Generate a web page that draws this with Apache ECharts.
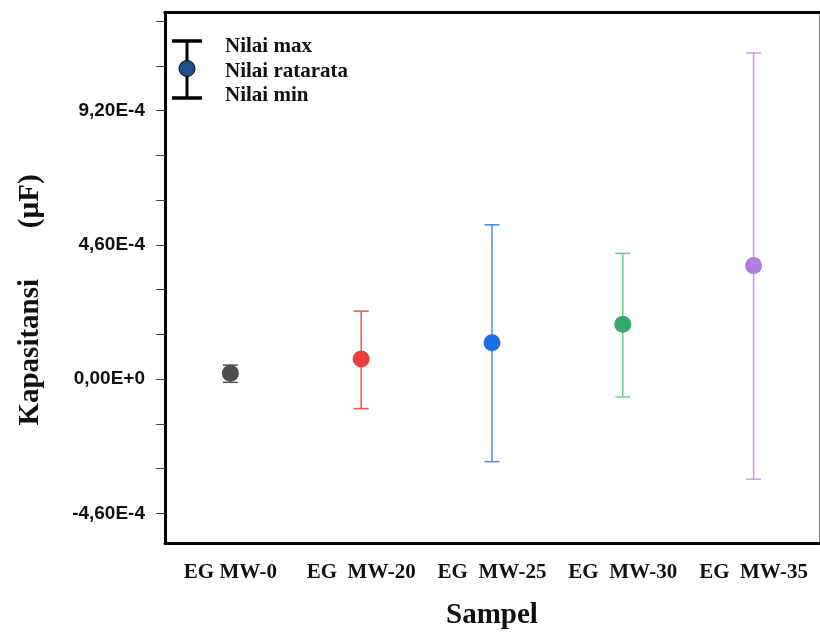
<!DOCTYPE html>
<html>
<head>
<meta charset="utf-8">
<script src="https://cdn.jsdelivr.net/npm/echarts@6/dist/echarts.min.js"></script>
<style>html,body{margin:0;padding:0;background:#fff}#c{width:820px;height:636px}</style>
</head>
<body>
<div id="c"></div>
<script>
const categories = ['EG MW-0', 'EG  MW-20', 'EG  MW-25', 'EG  MW-30', 'EG  MW-35'];
const meanValues = [2.0e-5, 6.9e-5, 1.25e-4, 1.88e-4, 3.89e-4];
const maxValues  = [4.8e-5, 2.33e-4, 5.29e-4, 4.31e-4, 1.118e-3];
const minValues  = [-1.1e-5, -1.01e-4, -2.83e-4, -6.1e-5, -3.43e-4];
const yTickLabels = [-4.6e-4, 0, 4.6e-4, 9.2e-4];
const legendTexts = ['Nilai max', 'Nilai ratarata', 'Nilai min'];

const dotColors  = ['#4d4d4d', '#ef3e3e', '#1c6fe2', '#34aa68', '#b47ae0'];
const lineColors = ['#555555', '#f05454', '#4a8ae8', '#6ec894', '#c79ce9'];

const Y_MIN = -5.635e-4, Y_MAX = 1.2566e-3;
const minorStep = yTickLabels[2] / 3;
const yTicks = [];
for (let k = -3; k <= 8; k++) yTicks.push(k * minorStep);

function fmt(v) {
  if (Math.abs(v) < 1e-12) return '0,00E+0';
  const e = Math.floor(Math.log10(Math.abs(v)) + 1e-9);
  const m = (v / Math.pow(10, e)).toFixed(2).replace('.', ',');
  return m + 'E' + (e >= 0 ? '+' + e : e);
}

const chart = echarts.init(document.getElementById('c'));
const serif = 'Liberation Serif';
chart.setOption({
  animation: false,
  backgroundColor: '#fff',
  grid: { left: 165, right: 1, top: 12.5, bottom: 92.5, containLabel: false, outerBoundsMode: 'none' },
  xAxis: [{
    type: 'category', data: categories, boundaryGap: true, position: 'bottom',
    axisLine: { onZero: false, lineStyle: { color: '#000', width: 3 } },
    axisTick: { alignWithLabel: true, length: 12, inside: false, lineStyle: { color: '#444', width: 1 } },
    axisLabel: { interval: 0, margin: 19, color: '#111', fontFamily: serif, fontWeight: 'bold', fontSize: 21 },
    name: 'Sampel', nameLocation: 'middle', nameGap: 58,
    nameTextStyle: { fontFamily: serif, fontWeight: 'bold', fontSize: 29, color: '#111' }
  }, {
    type: 'category', data: categories, position: 'top',
    axisLine: { onZero: false, lineStyle: { color: '#000', width: 3 } },
    axisTick: { show: false }, axisLabel: { show: false }
  }],
  yAxis: [{
    type: 'value', min: Y_MIN, max: Y_MAX, position: 'left',
    splitLine: { show: false },
    axisLine: { show: true, onZero: false, lineStyle: { color: '#000', width: 3 } },
    axisTick: { show: true, length: 9, customValues: yTicks, lineStyle: { color: '#444', width: 1 } },
    axisLabel: { customValues: yTickLabels, formatter: fmt, margin: 20, color: '#111',
      fontFamily: 'Liberation Sans', fontWeight: 'bold', fontSize: 19 },
    name: 'Kapasitansi       (µF)', nameLocation: 'middle', nameRotate: 90, nameGap: 120,
    nameTextStyle: { fontFamily: serif, fontWeight: 'bold', fontSize: 29, color: '#111', padding: [0, 44, 0, 0] }
  }, {
    type: 'value', min: Y_MIN, max: Y_MAX, position: 'right',
    splitLine: { show: false },
    axisLine: { show: true, onZero: false, lineStyle: { color: '#888', width: 1 } },
    axisTick: { show: false }, axisLabel: { show: false }
  }],
  series: [{
    type: 'custom',
    data: categories.map((c, i) => [i, minValues[i], maxValues[i]]),
    renderItem: function (params, api) {
      const x = api.value(0);
      const pLo = api.coord([x, api.value(1)]);
      const pHi = api.coord([x, api.value(2)]);
      const hw = 7.5;
      const col = lineColors[params.dataIndex];
      const st = { stroke: col, lineWidth: 1.5 };
      return { type: 'group', children: [
        { type: 'line', shape: { x1: pHi[0], y1: pHi[1], x2: pLo[0], y2: pLo[1] }, style: st },
        { type: 'line', shape: { x1: pHi[0] - hw, y1: pHi[1], x2: pHi[0] + hw, y2: pHi[1] }, style: st },
        { type: 'line', shape: { x1: pLo[0] - hw, y1: pLo[1], x2: pLo[0] + hw, y2: pLo[1] }, style: st }
      ]};
    },
    z: 2
  }, {
    type: 'scatter',
    data: meanValues,
    symbolSize: 17,
    itemStyle: { color: function (p) { return dotColors[p.dataIndex]; }, opacity: 1 },
    z: 3
  }],
  graphic: [
    { type: 'line', shape: { x1: 187, y1: 41, x2: 187, y2: 98 }, style: { stroke: '#000', lineWidth: 3 } },
    { type: 'line', shape: { x1: 172, y1: 41, x2: 202, y2: 41 }, style: { stroke: '#000', lineWidth: 3.5 } },
    { type: 'line', shape: { x1: 172, y1: 98, x2: 202, y2: 98 }, style: { stroke: '#000', lineWidth: 3.5 } },
    { type: 'circle', shape: { cx: 187, cy: 68.5, r: 8 }, style: { fill: '#1f4f8a', stroke: '#000', lineWidth: 1 } },
    { type: 'text', left: 225, top: 36, style: { text: legendTexts[0], font: 'bold 21px "Liberation Serif"', fill: '#111' } },
    { type: 'text', left: 225, top: 61, style: { text: legendTexts[1], font: 'bold 21px "Liberation Serif"', fill: '#111' } },
    { type: 'text', left: 225, top: 85, style: { text: legendTexts[2], font: 'bold 21px "Liberation Serif"', fill: '#111' } }
  ]
});
</script>
</body>
</html>
